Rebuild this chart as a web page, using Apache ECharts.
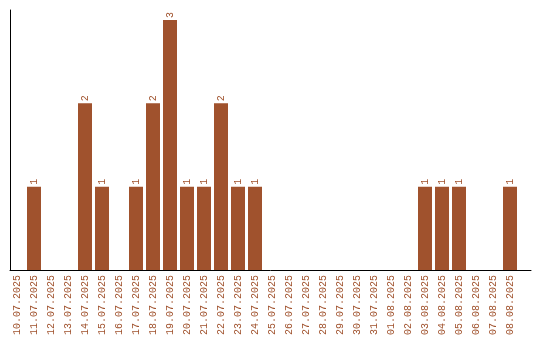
<!DOCTYPE html>
<html><head><meta charset="utf-8">
<script src="https://cdn.jsdelivr.net/npm/echarts@6/dist/echarts.min.js"></script>
<style>html,body{margin:0;padding:0;background:#fff}#c{width:540px;height:340px}</style>
</head><body><div id="c"></div>
<script>
const categories = ["10.07.2025","11.07.2025","12.07.2025","13.07.2025","14.07.2025","15.07.2025","16.07.2025","17.07.2025","18.07.2025","19.07.2025","20.07.2025","21.07.2025","22.07.2025","23.07.2025","24.07.2025","25.07.2025","26.07.2025","27.07.2025","28.07.2025","29.07.2025","30.07.2025","31.07.2025","01.08.2025","02.08.2025","03.08.2025","04.08.2025","05.08.2025","06.08.2025","07.08.2025","08.08.2025"];
const counts = [0,1,0,0,2,1,0,1,2,3,1,1,2,1,1,0,0,0,0,0,0,0,0,0,1,1,1,0,0,1];
const color = '#A0522D';
const font = 'Liberation Mono';
const chart = echarts.init(document.getElementById('c'), null, {renderer:'canvas'});
chart.setOption({
  animation:false,
  grid:[
    {left:8.5, width:510, top:10, height:260},
    {left:10, right:9, top:10, height:260}
  ],
  xAxis:[
    {type:'category', gridIndex:0, data:categories,
     axisLine:{show:false}, axisTick:{show:false},
     axisLabel:{rotate:90, interval:0, color:color, fontFamily:font, fontSize:10, margin:5}},
    {type:'value', gridIndex:1, min:0, max:1, axisLine:{show:true, lineStyle:{color:'#000', width:1}},
     axisTick:{show:false}, axisLabel:{show:false}, splitLine:{show:false}}
  ],
  yAxis:[
    {type:'value', gridIndex:0, min:0, max:3.12, show:false},
    {type:'value', gridIndex:1, min:0, max:1, axisLine:{show:true, lineStyle:{color:'#000', width:1}},
     axisTick:{show:false}, axisLabel:{show:false}, splitLine:{show:false}}
  ],
  series:[{
    type:'bar', xAxisIndex:0, yAxisIndex:0, data:counts.map(v=> v===0 ? {value:0, label:{show:false}} : v),
    barWidth:14, itemStyle:{color:color},
    label:{show:true, position:'top', rotate:90, align:'left', verticalAlign:'middle', distance:2,
      color:color, fontFamily:font, fontSize:10}
  }]
});
</script></body></html>
